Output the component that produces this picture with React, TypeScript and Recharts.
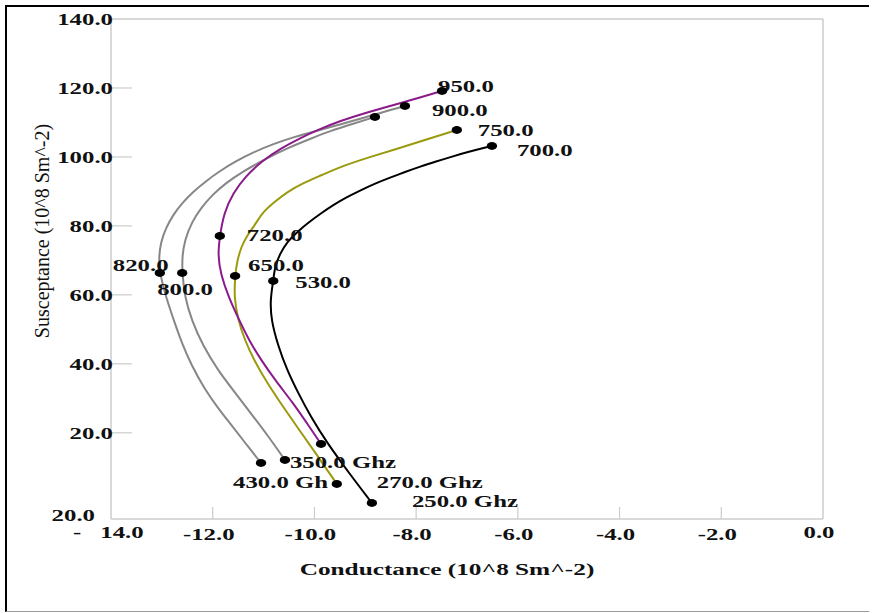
import React from "react";
import { ComposedChart, Line, Scatter, XAxis, YAxis, ReferenceLine } from "recharts";

const xTicks = [-14, -12, -10, -8, -6, -4, -2, 0];
const xTickLabels = ["- 14.0", "-12.0", "-10.0", "-8.0", "-6.0", "-4.0", "-2.0", "0.0"];
const yTicks = [-5, 20, 40, 60, 80, 100, 120, 140];
const yTickLabels = ["20.0", "20.0", "40.0", "60.0", "80.0", "100.0", "120.0", "140.0"];

const blackCurve = [
  { g: -8.87, b: -0.36 }, { g: -9.32, b: 8.34 }, { g: -9.75, b: 17.04 }, { g: -10.07, b: 24.58 },
  { g: -10.32, b: 31.54 }, { g: -10.54, b: 38.21 }, { g: -10.72, b: 45.46 }, { g: -10.85, b: 52.71 },
  { g: -10.87, b: 58.51 }, { g: -10.81, b: 64.02 }, { g: -10.78, b: 68.08 }, { g: -10.68, b: 71.85 },
  { g: -10.54, b: 75.33 }, { g: -10.34, b: 78.23 }, { g: -10.13, b: 80.84 }, { g: -9.89, b: 83.45 },
  { g: -9.63, b: 86.06 }, { g: -9.36, b: 88.38 }, { g: -9.08, b: 90.41 }, { g: -8.81, b: 92.29 },
  { g: -8.51, b: 94.03 }, { g: -8.22, b: 95.63 }, { g: -7.92, b: 97.22 }, { g: -7.61, b: 98.67 },
  { g: -7.29, b: 100.12 }, { g: -6.98, b: 101.43 }, { g: -6.67, b: 102.59 }, { g: -6.51, b: 103.17 },
];
const oliveCurve = [
  { g: -9.56, b: 5.15 }, { g: -9.95, b: 13.56 }, { g: -10.34, b: 21.68 }, { g: -10.64, b: 28.06 },
  { g: -10.93, b: 34.44 }, { g: -11.19, b: 41.11 }, { g: -11.37, b: 46.91 }, { g: -11.5, b: 52.71 },
  { g: -11.58, b: 59.09 }, { g: -11.56, b: 65.47 }, { g: -11.52, b: 69.82 }, { g: -11.44, b: 73.88 },
  { g: -11.33, b: 77.07 }, { g: -11.17, b: 80.26 }, { g: -11.03, b: 83.74 }, { g: -10.81, b: 86.64 },
  { g: -10.54, b: 89.83 }, { g: -10.22, b: 92.44 }, { g: -9.85, b: 94.76 }, { g: -9.5, b: 97.08 },
  { g: -8.91, b: 99.98 }, { g: -8.32, b: 102.59 }, { g: -7.77, b: 105.2 }, { g: -7.2, b: 107.81 },
];
const purpleCurve = [
  { g: -9.87, b: 16.75 }, { g: -10.15, b: 22.84 }, { g: -10.42, b: 28.64 }, { g: -10.76, b: 35.02 },
  { g: -11.05, b: 41.11 }, { g: -11.29, b: 46.91 }, { g: -11.48, b: 52.71 }, { g: -11.68, b: 59.09 },
  { g: -11.84, b: 65.76 }, { g: -11.9, b: 71.56 }, { g: -11.86, b: 77.07 }, { g: -11.78, b: 83.74 },
  { g: -11.6, b: 89.54 }, { g: -11.35, b: 94.47 }, { g: -11.03, b: 98.82 }, { g: -10.68, b: 102.3 },
  { g: -10.28, b: 105.49 }, { g: -9.89, b: 108.1 }, { g: -9.5, b: 110.42 }, { g: -9.01, b: 112.74 },
  { g: -8.51, b: 114.77 }, { g: -8.02, b: 116.8 }, { g: -7.49, b: 119.12 },
];
const outerGrayCurve = [
  { g: -11.05, b: 11.24 }, { g: -11.33, b: 16.46 }, { g: -11.6, b: 21.68 }, { g: -11.9, b: 27.19 },
  { g: -12.17, b: 32.99 }, { g: -12.41, b: 39.37 }, { g: -12.6, b: 45.75 }, { g: -12.76, b: 52.42 },
  { g: -12.92, b: 59.38 }, { g: -13.04, b: 66.34 }, { g: -13.06, b: 70.98 }, { g: -13.02, b: 75.33 },
  { g: -12.92, b: 79.39 }, { g: -12.78, b: 83.16 }, { g: -12.6, b: 86.64 }, { g: -12.39, b: 89.83 },
  { g: -12.13, b: 93.02 }, { g: -11.86, b: 95.92 }, { g: -11.54, b: 98.82 }, { g: -11.19, b: 101.43 },
  { g: -10.81, b: 103.75 }, { g: -10.4, b: 105.78 }, { g: -9.97, b: 107.52 }, { g: -9.54, b: 109.26 },
  { g: -9.1, b: 111.0 }, { g: -8.65, b: 113.03 }, { g: -8.22, b: 114.77 },
];
const innerGrayCurve = [
  { g: -10.58, b: 12.11 }, { g: -10.91, b: 19.07 }, { g: -11.27, b: 26.03 }, { g: -11.6, b: 32.41 },
  { g: -11.9, b: 38.21 }, { g: -12.19, b: 45.17 }, { g: -12.41, b: 52.42 }, { g: -12.55, b: 59.38 },
  { g: -12.6, b: 66.34 }, { g: -12.6, b: 71.27 }, { g: -12.55, b: 75.91 }, { g: -12.41, b: 81.13 },
  { g: -12.23, b: 85.19 }, { g: -12.01, b: 88.96 }, { g: -11.74, b: 92.44 }, { g: -11.42, b: 95.63 },
  { g: -10.97, b: 99.4 }, { g: -10.48, b: 102.88 }, { g: -10.09, b: 105.2 }, { g: -9.69, b: 107.52 },
  { g: -9.26, b: 109.55 }, { g: -8.81, b: 111.58 },
];

const blackMarks = [
  { g: -8.87, b: -0.36, label: "250.0 Ghz" },
  { g: -10.81, b: 64.02, label: "530.0" },
  { g: -6.51, b: 103.17, label: "700.0" },
];
const oliveMarks = [
  { g: -9.56, b: 5.15, label: "270.0 Ghz" },
  { g: -11.56, b: 65.47, label: "650.0" },
  { g: -7.2, b: 107.81, label: "750.0" },
];
const purpleMarks = [
  { g: -9.87, b: 16.75, label: "" },
  { g: -11.86, b: 77.07, label: "720.0" },
  { g: -7.49, b: 119.12, label: "950.0" },
];
const outerGrayMarks = [
  { g: -11.05, b: 11.24, label: "430.0 Gh" },
  { g: -13.04, b: 66.34, label: "820.0" },
  { g: -8.22, b: 114.77, label: "900.0" },
];
const innerGrayMarks = [
  { g: -10.58, b: 12.11, label: "350.0 Ghz" },
  { g: -12.6, b: 66.34, label: "800.0" },
  { g: -8.81, b: 111.58, label: "" },
];

const allMarks = [...blackMarks, ...oliveMarks, ...purpleMarks, ...outerGrayMarks, ...innerGrayMarks];

// label placement (style): offset of text start/baseline from the marker centre
const labelOffsets: Record<string, [number, number]> = {
  "950.0": [-4, 1],
  "900.0": [27, 10],
  "750.0": [21, 6],
  "700.0": [25, 10],
  "720.0": [27, 5],
  "650.0": [13, -5],
  "530.0": [22, 7],
  "800.0": [-25, 22],
  "820.0": [-47, -2],
  "350.0 Ghz": [5, 8],
  "430.0 Gh": [-28, 25],
  "270.0 Ghz": [40, 4],
  "250.0 Ghz": [40, 4],
};

const FONT = '"Liberation Serif", "Times New Roman", serif';
const SX = 1.55;
const GRID = "#cccccc";

const WideText = ({ x, y, children, anchor = "start", size = 16, sx = SX, weight = "bold" }: any) => (
  <text
    transform={`translate(${x},${y}) scale(${sx},1)`}
    x={0}
    y={0}
    textAnchor={anchor}
    fontFamily={FONT}
    fontSize={size}
    fontWeight={weight}
    fill="#111"
  >
    {children}
  </text>
);

const XTick = (props: any) => {
  const { x, y, payload } = props;
  const i = xTicks.indexOf(payload.value);
  const label = xTickLabels[i] ?? String(payload.value);
  const parts = label.split(" ");
  const showLine = payload.value !== -14 && payload.value !== 0;
  return (
    <g>
      {showLine && <line x1={x} y1={y} x2={x} y2={y - 12} stroke={GRID} strokeWidth={1.2} />}
      {parts.length === 2 ? (
        <>
          <WideText x={x - 34} y={y + 19} anchor="middle">{parts[0]}</WideText>
          <WideText x={x + 11} y={y + 19} anchor="middle">{parts[1]}</WideText>
        </>
      ) : (
        <WideText x={x - 4} y={y + (payload.value === 0 ? 19 : 21)} anchor="middle">{label}</WideText>
      )}
    </g>
  );
};

const YTick = (props: any) => {
  const { x, y, payload } = props;
  const i = yTicks.indexOf(payload.value);
  const label = yTickLabels[i] ?? String(payload.value);
  const isBottom = i === 0;
  const showLine = !isBottom && payload.value !== 140;
  return (
    <g>
      {showLine && <line x1={x} y1={y} x2={x + 21} y2={y} stroke={GRID} strokeWidth={1.2} />}
      <WideText x={isBottom ? x - 16 : x + 2} y={isBottom ? y + 2 : y + 6} anchor="end">{label}</WideText>
    </g>
  );
};

const XTitle = (props: any) => {
  const vb = props.viewBox || { x: 104, y: 512, width: 712, height: 60 };
  return (
    <WideText x={vb.x + vb.width / 2 - 20} y={vb.y + 56} anchor="middle" sx={1.58}>
      Conductance (10^8 Sm^-2)
    </WideText>
  );
};

const YTitle = (props: any) => {
  const vb = props.viewBox || { x: 14, y: 12, width: 90, height: 500 };
  const cx = vb.x + 21;
  const cy = vb.y + vb.height / 2 - 38;
  return (
    <text
      transform={`translate(${cx},${cy}) rotate(-90)`}
      x={0}
      y={0}
      textAnchor="middle"
      dominantBaseline="central"
      fontFamily={FONT}
      fontSize={20}
      fill="#111"
    >
      Susceptance (10^8 Sm^-2)
    </text>
  );
};

const Dot = (p: any) => <ellipse cx={p.cx} cy={p.cy} rx={5.2} ry={3.9} fill="#000" />;

const MarkLabel = (p: any) => {
  const label = p.payload?.label;
  if (!label) return <g />;
  const [dx, dy] = labelOffsets[label] ?? [8, 4];
  return <WideText x={p.cx + dx} y={p.cy + dy}>{label}</WideText>;
};

const CURVE = "basis" as const;

export default function App() {
  return (
    <div
      style={{
        position: "absolute",
        left: 5,
        top: 5,
        width: 862,
        height: 604,
        borderLeft: "2px solid #000",
        borderTop: "2px solid #000",
        borderBottom: "1px solid #999",
        background: "#fff",
      }}
    >
      <ComposedChart width={862} height={604} margin={{ top: 12, right: 46, bottom: 32, left: 14 }}>
        <XAxis
          type="number"
          dataKey="g"
          domain={[-14, 0]}
          ticks={xTicks}
          interval={0}
          allowDataOverflow
          tickSize={0}
          tickMargin={0}
          tickLine={false}
          axisLine={{ stroke: GRID, strokeWidth: 1.5 }}
          tick={<XTick />}
          height={60}
          label={<XTitle />}
        />
        <YAxis
          type="number"
          dataKey="b"
          domain={[-5, 140]}
          ticks={yTicks}
          interval={0}
          allowDataOverflow
          tickSize={0}
          tickMargin={0}
          tickLine={false}
          axisLine={{ stroke: GRID, strokeWidth: 1.5 }}
          tick={<YTick />}
          width={90}
          label={<YTitle />}
        />
        <ReferenceLine y={140} stroke={GRID} strokeWidth={1.5} />
        <ReferenceLine x={0} stroke={GRID} strokeWidth={1.5} />
        <Line data={outerGrayCurve} dataKey="b" type={CURVE} stroke="#878787" strokeWidth={2} dot={false} activeDot={false} isAnimationActive={false} />
        <Line data={innerGrayCurve} dataKey="b" type={CURVE} stroke="#878787" strokeWidth={2} dot={false} activeDot={false} isAnimationActive={false} />
        <Line data={oliveCurve} dataKey="b" type={CURVE} stroke="#9a9a0e" strokeWidth={2} dot={false} activeDot={false} isAnimationActive={false} />
        <Line data={purpleCurve} dataKey="b" type={CURVE} stroke="#8b1a8b" strokeWidth={2} dot={false} activeDot={false} isAnimationActive={false} />
        <Line data={blackCurve} dataKey="b" type={CURVE} stroke="#000000" strokeWidth={2} dot={false} activeDot={false} isAnimationActive={false} />
        <Scatter data={allMarks} dataKey="b" shape={MarkLabel} isAnimationActive={false} />
        <Scatter data={allMarks} dataKey="b" shape={Dot} isAnimationActive={false} />
      </ComposedChart>
    </div>
  );
}
